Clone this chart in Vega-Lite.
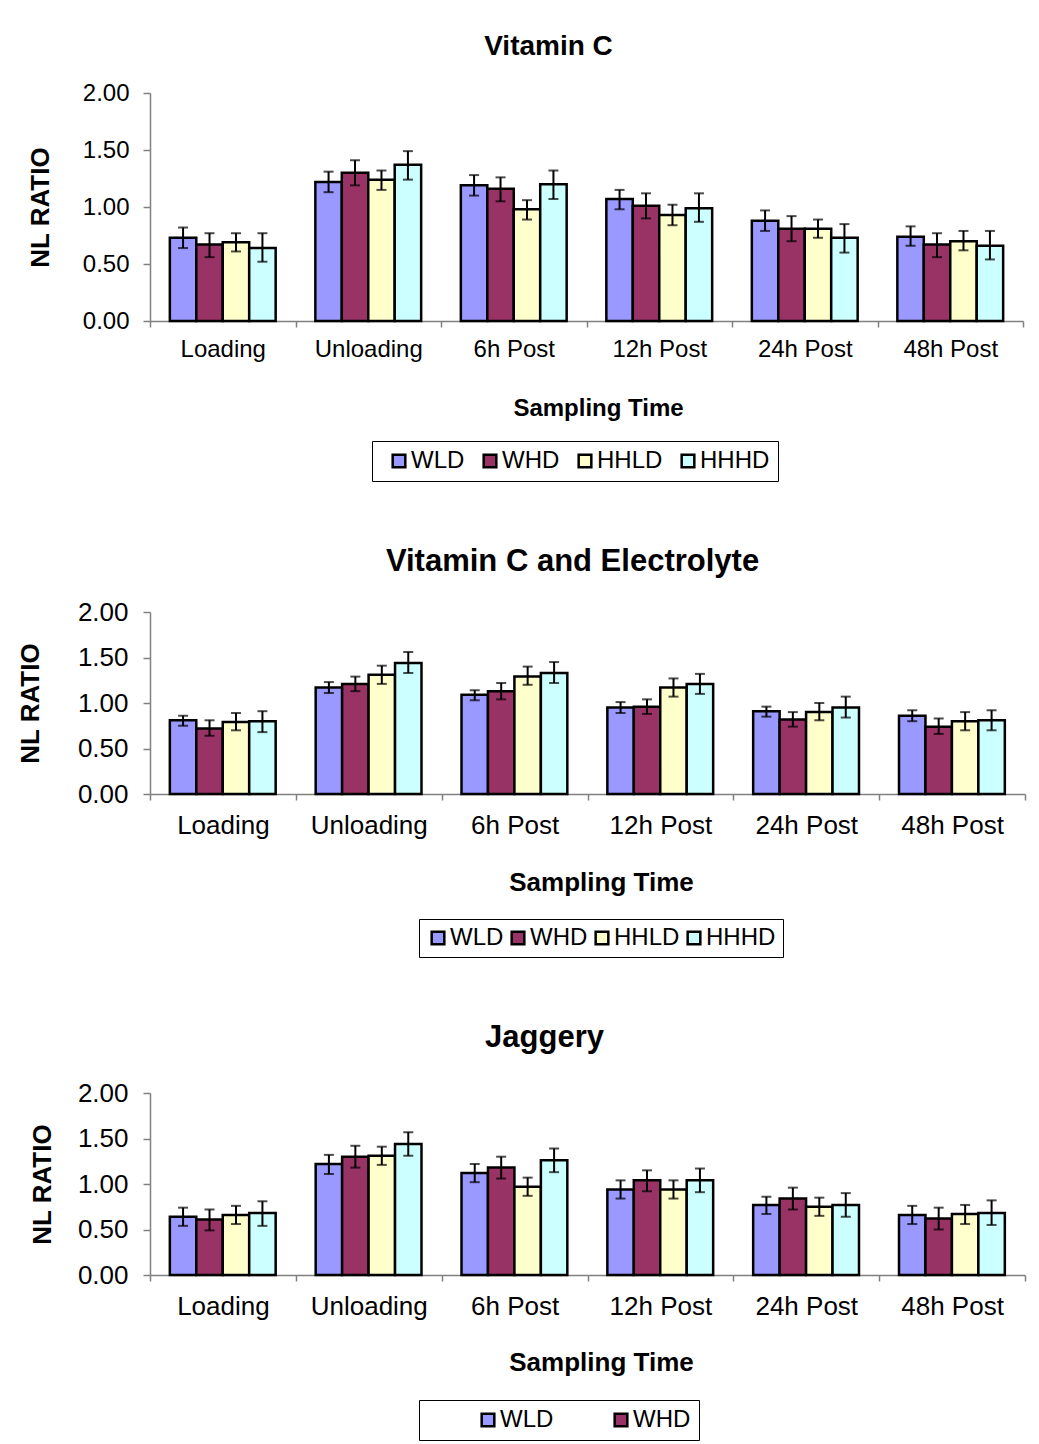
{
  "$schema": "https://vega.github.io/schema/vega-lite/v6.json",
  "padding": {"top": 33, "left": 17, "right": 10, "bottom": 0},
  "background": "white",
  "config": {
    "font": "Liberation Sans",
    "view": {"stroke": null},
    "axis": {"grid": false, "domainColor": "#808080", "tickColor": "#808080", "domainWidth": 1.5, "tickWidth": 1.5, "labelColor": "black", "titleColor": "black", "titleFontWeight": "bold"},
    "legend": {"strokeColor": "black", "strokeWidth": 1, "direction": "horizontal", "symbolType": "square", "symbolSize": 160, "symbolStrokeColor": "black", "symbolStrokeWidth": 2.5, "labelFontSize": 24, "labelColor": "black", "labelOffset": 0, "title": null, "orient": "none"}
  },
  "datasets": {
    "vc": [
      {"time": "Loading", "group": "WLD", "v": 0.73, "lo": 0.64, "hi": 0.82},
      {"time": "Loading", "group": "WHD", "v": 0.67, "lo": 0.56, "hi": 0.77},
      {"time": "Loading", "group": "HHLD", "v": 0.69, "lo": 0.61, "hi": 0.77},
      {"time": "Loading", "group": "HHHD", "v": 0.64, "lo": 0.52, "hi": 0.77},
      {"time": "Unloading", "group": "WLD", "v": 1.22, "lo": 1.13, "hi": 1.31},
      {"time": "Unloading", "group": "WHD", "v": 1.30, "lo": 1.19, "hi": 1.41},
      {"time": "Unloading", "group": "HHLD", "v": 1.24, "lo": 1.15, "hi": 1.32},
      {"time": "Unloading", "group": "HHHD", "v": 1.37, "lo": 1.24, "hi": 1.49},
      {"time": "6h Post", "group": "WLD", "v": 1.19, "lo": 1.10, "hi": 1.28},
      {"time": "6h Post", "group": "WHD", "v": 1.16, "lo": 1.05, "hi": 1.26},
      {"time": "6h Post", "group": "HHLD", "v": 0.98, "lo": 0.89, "hi": 1.06},
      {"time": "6h Post", "group": "HHHD", "v": 1.20, "lo": 1.07, "hi": 1.32},
      {"time": "12h Post", "group": "WLD", "v": 1.07, "lo": 0.98, "hi": 1.15},
      {"time": "12h Post", "group": "WHD", "v": 1.01, "lo": 0.90, "hi": 1.12},
      {"time": "12h Post", "group": "HHLD", "v": 0.93, "lo": 0.84, "hi": 1.02},
      {"time": "12h Post", "group": "HHHD", "v": 0.99, "lo": 0.87, "hi": 1.12},
      {"time": "24h Post", "group": "WLD", "v": 0.88, "lo": 0.79, "hi": 0.97},
      {"time": "24h Post", "group": "WHD", "v": 0.81, "lo": 0.70, "hi": 0.92},
      {"time": "24h Post", "group": "HHLD", "v": 0.81, "lo": 0.73, "hi": 0.89},
      {"time": "24h Post", "group": "HHHD", "v": 0.73, "lo": 0.60, "hi": 0.85},
      {"time": "48h Post", "group": "WLD", "v": 0.74, "lo": 0.66, "hi": 0.83},
      {"time": "48h Post", "group": "WHD", "v": 0.67, "lo": 0.56, "hi": 0.77},
      {"time": "48h Post", "group": "HHLD", "v": 0.70, "lo": 0.62, "hi": 0.79},
      {"time": "48h Post", "group": "HHHD", "v": 0.66, "lo": 0.54, "hi": 0.79}
    ],
    "vce": [
      {"time": "Loading", "group": "WLD", "v": 0.81, "lo": 0.75, "hi": 0.86},
      {"time": "Loading", "group": "WHD", "v": 0.72, "lo": 0.64, "hi": 0.81},
      {"time": "Loading", "group": "HHLD", "v": 0.79, "lo": 0.70, "hi": 0.89},
      {"time": "Loading", "group": "HHHD", "v": 0.80, "lo": 0.68, "hi": 0.91},
      {"time": "Unloading", "group": "WLD", "v": 1.17, "lo": 1.11, "hi": 1.23},
      {"time": "Unloading", "group": "WHD", "v": 1.21, "lo": 1.13, "hi": 1.29},
      {"time": "Unloading", "group": "HHLD", "v": 1.31, "lo": 1.21, "hi": 1.41},
      {"time": "Unloading", "group": "HHHD", "v": 1.44, "lo": 1.33, "hi": 1.56},
      {"time": "6h Post", "group": "WLD", "v": 1.09, "lo": 1.03, "hi": 1.14},
      {"time": "6h Post", "group": "WHD", "v": 1.13, "lo": 1.04, "hi": 1.22},
      {"time": "6h Post", "group": "HHLD", "v": 1.29, "lo": 1.20, "hi": 1.40},
      {"time": "6h Post", "group": "HHHD", "v": 1.33, "lo": 1.22, "hi": 1.45},
      {"time": "12h Post", "group": "WLD", "v": 0.95, "lo": 0.89, "hi": 1.01},
      {"time": "12h Post", "group": "WHD", "v": 0.96, "lo": 0.88, "hi": 1.04},
      {"time": "12h Post", "group": "HHLD", "v": 1.17, "lo": 1.07, "hi": 1.27},
      {"time": "12h Post", "group": "HHHD", "v": 1.21, "lo": 1.10, "hi": 1.32},
      {"time": "24h Post", "group": "WLD", "v": 0.91, "lo": 0.85, "hi": 0.96},
      {"time": "24h Post", "group": "WHD", "v": 0.82, "lo": 0.74, "hi": 0.90},
      {"time": "24h Post", "group": "HHLD", "v": 0.90, "lo": 0.81, "hi": 1.00},
      {"time": "24h Post", "group": "HHHD", "v": 0.95, "lo": 0.84, "hi": 1.07},
      {"time": "48h Post", "group": "WLD", "v": 0.86, "lo": 0.80, "hi": 0.92},
      {"time": "48h Post", "group": "WHD", "v": 0.74, "lo": 0.66, "hi": 0.83},
      {"time": "48h Post", "group": "HHLD", "v": 0.80, "lo": 0.70, "hi": 0.90},
      {"time": "48h Post", "group": "HHHD", "v": 0.81, "lo": 0.70, "hi": 0.92}
    ],
    "jag": [
      {"time": "Loading", "group": "WLD", "v": 0.64, "lo": 0.54, "hi": 0.74},
      {"time": "Loading", "group": "WHD", "v": 0.61, "lo": 0.49, "hi": 0.72},
      {"time": "Loading", "group": "HHLD", "v": 0.66, "lo": 0.56, "hi": 0.76},
      {"time": "Loading", "group": "HHHD", "v": 0.68, "lo": 0.54, "hi": 0.81},
      {"time": "Unloading", "group": "WLD", "v": 1.22, "lo": 1.11, "hi": 1.32},
      {"time": "Unloading", "group": "WHD", "v": 1.30, "lo": 1.18, "hi": 1.42},
      {"time": "Unloading", "group": "HHLD", "v": 1.31, "lo": 1.21, "hi": 1.41},
      {"time": "Unloading", "group": "HHHD", "v": 1.44, "lo": 1.31, "hi": 1.57},
      {"time": "6h Post", "group": "WLD", "v": 1.12, "lo": 1.02, "hi": 1.22},
      {"time": "6h Post", "group": "WHD", "v": 1.18, "lo": 1.06, "hi": 1.30},
      {"time": "6h Post", "group": "HHLD", "v": 0.97, "lo": 0.87, "hi": 1.07},
      {"time": "6h Post", "group": "HHHD", "v": 1.26, "lo": 1.13, "hi": 1.39},
      {"time": "12h Post", "group": "WLD", "v": 0.94, "lo": 0.84, "hi": 1.04},
      {"time": "12h Post", "group": "WHD", "v": 1.04, "lo": 0.92, "hi": 1.15},
      {"time": "12h Post", "group": "HHLD", "v": 0.94, "lo": 0.84, "hi": 1.04},
      {"time": "12h Post", "group": "HHHD", "v": 1.04, "lo": 0.91, "hi": 1.17},
      {"time": "24h Post", "group": "WLD", "v": 0.77, "lo": 0.67, "hi": 0.86},
      {"time": "24h Post", "group": "WHD", "v": 0.84, "lo": 0.72, "hi": 0.96},
      {"time": "24h Post", "group": "HHLD", "v": 0.75, "lo": 0.65, "hi": 0.85},
      {"time": "24h Post", "group": "HHHD", "v": 0.77, "lo": 0.64, "hi": 0.90},
      {"time": "48h Post", "group": "WLD", "v": 0.66, "lo": 0.56, "hi": 0.76},
      {"time": "48h Post", "group": "WHD", "v": 0.62, "lo": 0.50, "hi": 0.74},
      {"time": "48h Post", "group": "HHLD", "v": 0.67, "lo": 0.56, "hi": 0.77},
      {"time": "48h Post", "group": "HHHD", "v": 0.68, "lo": 0.55, "hi": 0.82}
    ]
  },
  "vconcat": [
    {
      "title": {"text": "Vitamin C", "fontSize": 28, "fontWeight": "bold", "color": "black", "frame": "group", "dx": -38, "offset": 20},
      "width": 873, "height": 228,
      "data": {"name": "vc"},
      "encoding": {
        "x": {"field": "time", "type": "nominal", "sort": ["Loading", "Unloading", "6h Post", "12h Post", "24h Post", "48h Post"], "scale": {"paddingInner": 0, "paddingOuter": 0},
          "axis": {"title": "Sampling Time", "titleX": 448, "labelAngle": 0, "tickBand": "extent", "tickSize": 6, "labelPadding": 10, "labelFontSize": 24, "titleFontSize": 24, "titlePadding": 35}},
        "xOffset": {"field": "group", "sort": ["WLD", "WHD", "HHLD", "HHHD"], "scale": {"paddingInner": 0, "paddingOuter": 0.75}}
      },
      "layer": [
        {"mark": {"type": "bar", "stroke": "black", "strokeWidth": 2.5},
         "encoding": {
           "y": {"field": "v", "type": "quantitative", "scale": {"domain": [0, 2]},
             "axis": {"title": "NL RATIO", "values": [0, 0.5, 1, 1.5, 2], "format": ".2f", "tickSize": 7, "labelPadding": 14, "labelFontSize": 24, "titleFontSize": 26, "titlePadding": 29}},
           "color": {"field": "group", "type": "nominal", "sort": ["WLD", "WHD", "HHLD", "HHHD"],
             "scale": {"domain": ["WLD", "WHD", "HHLD", "HHHD"], "range": ["#9999FF", "#993366", "#FFFFCC", "#CCFFFF"]},
             "legend": {"legendX": 222, "legendY": 348, "padding": 8, "symbolOffset": 7, "columnPadding": 6}}
         }},
        {"mark": {"type": "rule", "color": "black", "strokeWidth": 2},
         "encoding": {"y": {"field": "lo", "type": "quantitative"}, "y2": {"field": "hi"}}},
        {"mark": {"type": "tick", "color": "black", "thickness": 2, "size": 10, "orient": "horizontal"},
         "encoding": {"y": {"field": "lo", "type": "quantitative"}}},
        {"mark": {"type": "tick", "color": "black", "thickness": 2, "size": 10, "orient": "horizontal"},
         "encoding": {"y": {"field": "hi", "type": "quantitative"}}}
      ]
    },
    {
      "title": {"text": "Vitamin C and Electrolyte", "fontSize": 31, "fontWeight": "bold", "color": "black", "frame": "group", "dx": -15, "offset": 21},
      "width": 875, "height": 182,
      "data": {"name": "vce"},
      "encoding": {
        "x": {"field": "time", "type": "nominal", "sort": ["Loading", "Unloading", "6h Post", "12h Post", "24h Post", "48h Post"], "scale": {"paddingInner": 0, "paddingOuter": 0},
          "axis": {"title": "Sampling Time", "titleX": 451, "labelAngle": 0, "tickBand": "extent", "tickSize": 6, "labelPadding": 12, "labelFontSize": 26, "titleFontSize": 26, "titlePadding": 31}},
        "xOffset": {"field": "group", "sort": ["WLD", "WHD", "HHLD", "HHHD"], "scale": {"paddingInner": 0, "paddingOuter": 0.75}}
      },
      "layer": [
        {"mark": {"type": "bar", "stroke": "black", "strokeWidth": 2.5},
         "encoding": {
           "y": {"field": "v", "type": "quantitative", "scale": {"domain": [0, 2]},
             "axis": {"title": "NL RATIO", "values": [0, 0.5, 1, 1.5, 2], "format": ".2f", "tickSize": 7, "labelPadding": 15, "labelFontSize": 26, "titleFontSize": 26, "titlePadding": 34}},
           "color": {"field": "group", "type": "nominal", "sort": ["WLD", "WHD", "HHLD", "HHHD"],
             "scale": {"domain": ["WLD", "WHD", "HHLD", "HHHD"], "range": ["#9999FF", "#993366", "#FFFFCC", "#CCFFFF"]},
             "legend": {"legendX": 269, "legendY": 307, "padding": 7, "columnPadding": 2}}
         }},
        {"mark": {"type": "rule", "color": "black", "strokeWidth": 2},
         "encoding": {"y": {"field": "lo", "type": "quantitative"}, "y2": {"field": "hi"}}},
        {"mark": {"type": "tick", "color": "black", "thickness": 2, "size": 10, "orient": "horizontal"},
         "encoding": {"y": {"field": "lo", "type": "quantitative"}}},
        {"mark": {"type": "tick", "color": "black", "thickness": 2, "size": 10, "orient": "horizontal"},
         "encoding": {"y": {"field": "hi", "type": "quantitative"}}}
      ]
    },
    {
      "title": {"text": "Jaggery", "fontSize": 31, "fontWeight": "bold", "color": "black", "frame": "group", "dx": -43, "offset": 26},
      "width": 875, "height": 182,
      "data": {"name": "jag"},
      "encoding": {
        "x": {"field": "time", "type": "nominal", "sort": ["Loading", "Unloading", "6h Post", "12h Post", "24h Post", "48h Post"], "scale": {"paddingInner": 0, "paddingOuter": 0},
          "axis": {"title": "Sampling Time", "titleX": 451, "labelAngle": 0, "tickBand": "extent", "tickSize": 6, "labelPadding": 12, "labelFontSize": 26, "titleFontSize": 26, "titlePadding": 30}},
        "xOffset": {"field": "group", "sort": ["WLD", "WHD", "HHLD", "HHHD"], "scale": {"paddingInner": 0, "paddingOuter": 0.75}}
      },
      "layer": [
        {"mark": {"type": "bar", "stroke": "black", "strokeWidth": 2.5},
         "encoding": {
           "y": {"field": "v", "type": "quantitative", "scale": {"domain": [0, 2]},
             "axis": {"title": "NL RATIO", "values": [0, 0.5, 1, 1.5, 2], "format": ".2f", "tickSize": 7, "labelPadding": 15, "labelFontSize": 26, "titleFontSize": 26, "titlePadding": 22}},
           "color": {"field": "group", "type": "nominal", "sort": ["WLD", "WHD", "HHLD", "HHHD"],
             "scale": {"domain": ["WLD", "WHD", "HHLD", "HHHD"], "range": ["#9999FF", "#993366", "#FFFFCC", "#CCFFFF"]},
             "legend": {"values": ["WLD", "WHD"], "legendX": 269, "legendY": 307, "padding": 8, "symbolOffset": 49, "columnPadding": 6, "labelExpr": "datum.label == 'WHD' ? datum.label + '\u00a0\u00a0\u00a0\u00a0\u00a0\u00a0' : datum.label"}}
         }},
        {"mark": {"type": "rule", "color": "black", "strokeWidth": 2},
         "encoding": {"y": {"field": "lo", "type": "quantitative"}, "y2": {"field": "hi"}}},
        {"mark": {"type": "tick", "color": "black", "thickness": 2, "size": 10, "orient": "horizontal"},
         "encoding": {"y": {"field": "lo", "type": "quantitative"}}},
        {"mark": {"type": "tick", "color": "black", "thickness": 2, "size": 10, "orient": "horizontal"},
         "encoding": {"y": {"field": "hi", "type": "quantitative"}}}
      ]
    }
  ],
  "resolve": {"scale": {"color": "independent"}},
  "spacing": 64
}
